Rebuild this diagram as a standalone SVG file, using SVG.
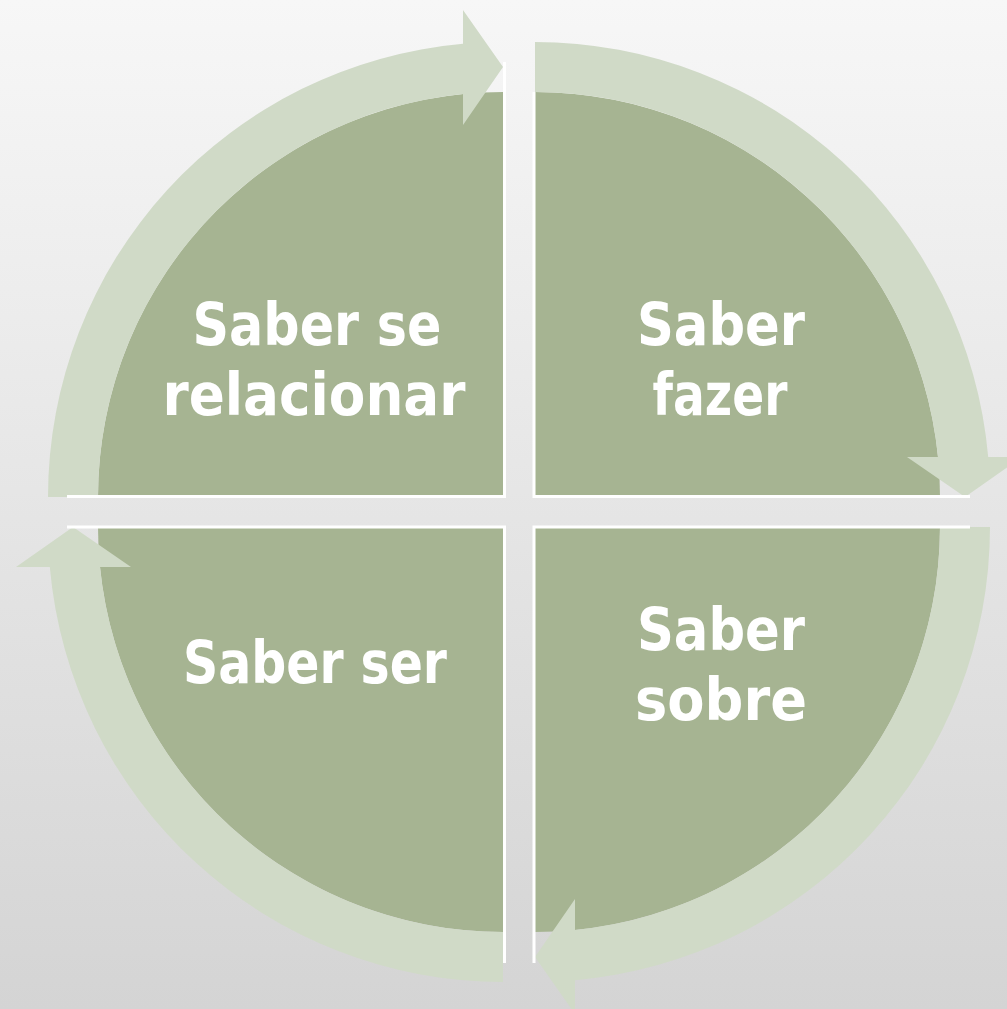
<svg xmlns="http://www.w3.org/2000/svg" width="1007" height="1009" viewBox="0 0 1007 1009">
  <defs>
    <linearGradient id="bg" x1="0" y1="0" x2="0" y2="1">
      <stop offset="0" stop-color="#f7f7f7"/>
      <stop offset="1" stop-color="#d4d4d4"/>
    </linearGradient>
    <style>
      .pie { fill: #a6b492; }
      .arrow { fill: #d0dac7; }
      .edge { fill: none; stroke: #ffffff; stroke-width: 3; }
      .lbl { fill: #ffffff; font-family: "DejaVu Sans", "Liberation Sans", sans-serif; font-weight: bold; font-size: 58px; text-anchor: middle; }
    </style>
  </defs>
  <rect x="0" y="0" width="1007" height="1009" fill="url(#bg)"/>

  <g id="node-saber-se-relacionar">
    <path class="pie" d="M 503,497 L 98,497 A 405 405 0 0 1 503,92 Z"/>
    <text class="lbl" x="317" y="345" textLength="249" lengthAdjust="spacingAndGlyphs">Saber se</text>
    <text class="lbl" x="314" y="415" textLength="303" lengthAdjust="spacingAndGlyphs">relacionar</text>
  </g>
  <g id="node-saber-fazer">
    <path class="pie" d="M 535,497 L 535,92 A 405 405 0 0 1 940,497 Z"/>
    <text class="lbl" x="721" y="345" textLength="168" lengthAdjust="spacingAndGlyphs">Saber</text>
    <text class="lbl" x="720" y="415" textLength="135" lengthAdjust="spacingAndGlyphs">fazer</text>
  </g>
  <g id="node-saber-sobre">
    <path class="pie" d="M 535,527 L 940,527 A 405 405 0 0 1 535,932 Z"/>
    <text class="lbl" x="721" y="650" textLength="168" lengthAdjust="spacingAndGlyphs">Saber</text>
    <text class="lbl" x="721" y="720" textLength="172" lengthAdjust="spacingAndGlyphs">sobre</text>
  </g>
  <g id="node-saber-ser">
    <path class="pie" d="M 503,527 L 503,932 A 405 405 0 0 1 98,527 Z"/>
    <text class="lbl" x="315" y="683" textLength="264" lengthAdjust="spacingAndGlyphs">Saber ser</text>
  </g>

  <g id="connectors">
    <path class="arrow" d="M 48,497 A 455 455 0 0 1 463,43.8 L 463,10 L 503,67 L 463,125 L 463,94 A 405 405 0 0 0 98,497 Z"/>
    <path class="arrow" d="M 535,42 A 455 455 0 0 1 988.2,457 L 1022,457 L 965,497 L 907,457 L 938,457 A 405 405 0 0 0 535,92 Z"/>
    <path class="arrow" d="M 990,527 A 455 455 0 0 1 575,980.2 L 575,1014 L 535,957 L 575,899 L 575,930 A 405 405 0 0 0 940,527 Z"/>
    <path class="arrow" d="M 503,982 A 455 455 0 0 1 49.8,567 L 16,567 L 73,527 L 131,567 L 100,567 A 405 405 0 0 0 503,932 Z"/>
  </g>

  <g id="edges">
    <path class="edge" d="M 504.5,62 V 496.5 H 67"/>
    <path class="edge" d="M 534,92 V 496.5 H 970"/>
    <path class="edge" d="M 970,527 H 534 V 963"/>
    <path class="edge" d="M 67,527 H 504.5 V 963"/>
  </g>
</svg>
